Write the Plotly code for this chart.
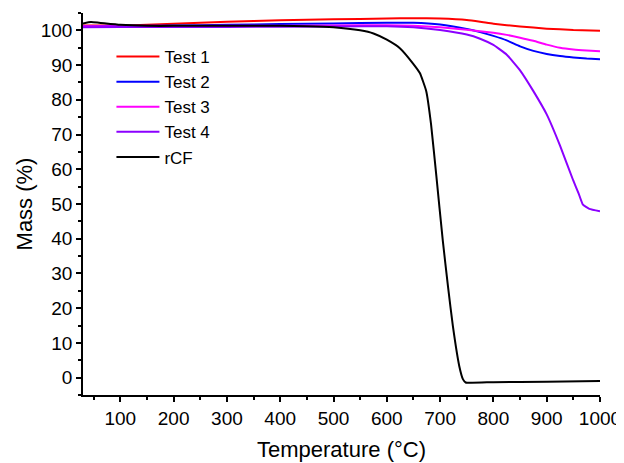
import plotly.graph_objects as go

# ---- data ----
t1_T = [30, 100, 150, 200, 250, 300, 400, 500, 600, 650, 700, 750, 775, 800, 850, 900, 950, 1000]
t1_M = [101.4, 101.4, 101.6, 101.9, 102.2, 102.5, 102.9, 103.2, 103.4, 103.5, 103.4, 103.0, 102.5, 101.9, 101.1, 100.5, 100.1, 99.9]

t2_T = [30, 100, 200, 300, 400, 500, 600, 650, 700, 750, 775, 800, 825, 850, 875, 900, 925, 950, 975, 1000]
t2_M = [101.2, 101.3, 101.4, 101.6, 101.8, 102.0, 102.2, 102.2, 101.7, 100.4, 99.5, 98.4, 97.1, 95.4, 94.1, 93.2, 92.6, 92.2, 91.9, 91.7]

t3_T = [30, 100, 300, 500, 600, 650, 700, 750, 800, 825, 850, 875, 900, 925, 950, 975, 1000]
t3_M = [101.2, 101.2, 101.3, 101.4, 101.5, 101.3, 100.9, 100.2, 99.3, 98.7, 97.9, 97.0, 95.9, 95.0, 94.5, 94.2, 94.0]

t4_T = [30, 100, 300, 500, 600, 650, 700, 750, 775, 800, 825, 850, 875, 900, 925, 950, 960, 968, 980, 1000]
t4_M = [100.9, 101.0, 101.0, 101.1, 101.2, 100.9, 100.1, 98.8, 97.6, 95.8, 93.0, 88.5, 82.5, 75.8, 66.8, 56.7, 53.0, 49.8, 48.6, 47.9]

rcf_T = [30, 45, 60, 100, 150, 200, 300, 400, 450, 500, 550, 575, 600, 625, 650, 662, 674, 683, 693, 705, 715, 724, 736, 743, 748, 800, 900, 1000]
rcf_M = [102.0, 102.4, 102.2, 101.6, 101.3, 101.3, 101.3, 101.3, 101.2, 100.9, 100.0, 99.1, 97.3, 94.8, 90.3, 87.7, 82.5, 73.0, 58.0, 39.5, 26.0, 14.8, 3.3, -0.5, -1.4, -1.3, -1.2, -1.0]

series = [
    ("Test 1", t1_T, t1_M, "#FF0000"),
    ("Test 2", t2_T, t2_M, "#0000FF"),
    ("Test 3", t3_T, t3_M, "#FF00FF"),
    ("Test 4", t4_T, t4_M, "#8B00FF"),
    ("rCF", rcf_T, rcf_M, "#000000"),
]

fig = go.Figure()
for name, T, M, col in series:
    fig.add_trace(go.Scatter(x=T, y=M, mode="lines", name=name,
                             line=dict(color=col, width=2, shape="spline", smoothing=0.4)))

FONT = "Liberation Sans, Arial, sans-serif"
axis_common = dict(
    showline=True, linecolor="black", linewidth=1.5,
    ticks="outside", ticklen=5, tickwidth=1.5, tickcolor="black",
    showgrid=False, zeroline=False, mirror=False, automargin=False,
    tickfont=dict(family=FONT, size=19, color="black"),
)
fig.update_xaxes(range=[30, 1000], dtick=100, tick0=0,
                 title=dict(text="Temperature (°C)", font=dict(family=FONT, size=22, color="black"), standoff=14),
                 minor=dict(ticks="outside", ticklen=3, dtick=50, tickwidth=1.5, tickcolor="black"),
                 **axis_common)
fig.update_yaxes(range=[-5, 105], dtick=10, tick0=0,
                 title=dict(text="Mass (%)", font=dict(family=FONT, size=22, color="black"), standoff=2),
                 minor=dict(ticks="outside", ticklen=3, dtick=5, tickwidth=1.5, tickcolor="black"),
                 **axis_common)

# the page body adds an 8 px offset, so the figure is 8 px smaller than the window
fig.update_layout(
    width=616, height=455,
    margin=dict(l=75, r=24, t=5, b=68),
    plot_bgcolor="white", paper_bgcolor="white",
    font=dict(family=FONT, color="black"),
    legend=dict(x=0.055, y=0.932, xanchor="left", yanchor="top",
                bgcolor="rgba(0,0,0,0)", font=dict(family=FONT, size=17, color="black"),
                itemwidth=43, tracegroupgap=0),
    showlegend=True,
)

fig.write_html("out.html")
